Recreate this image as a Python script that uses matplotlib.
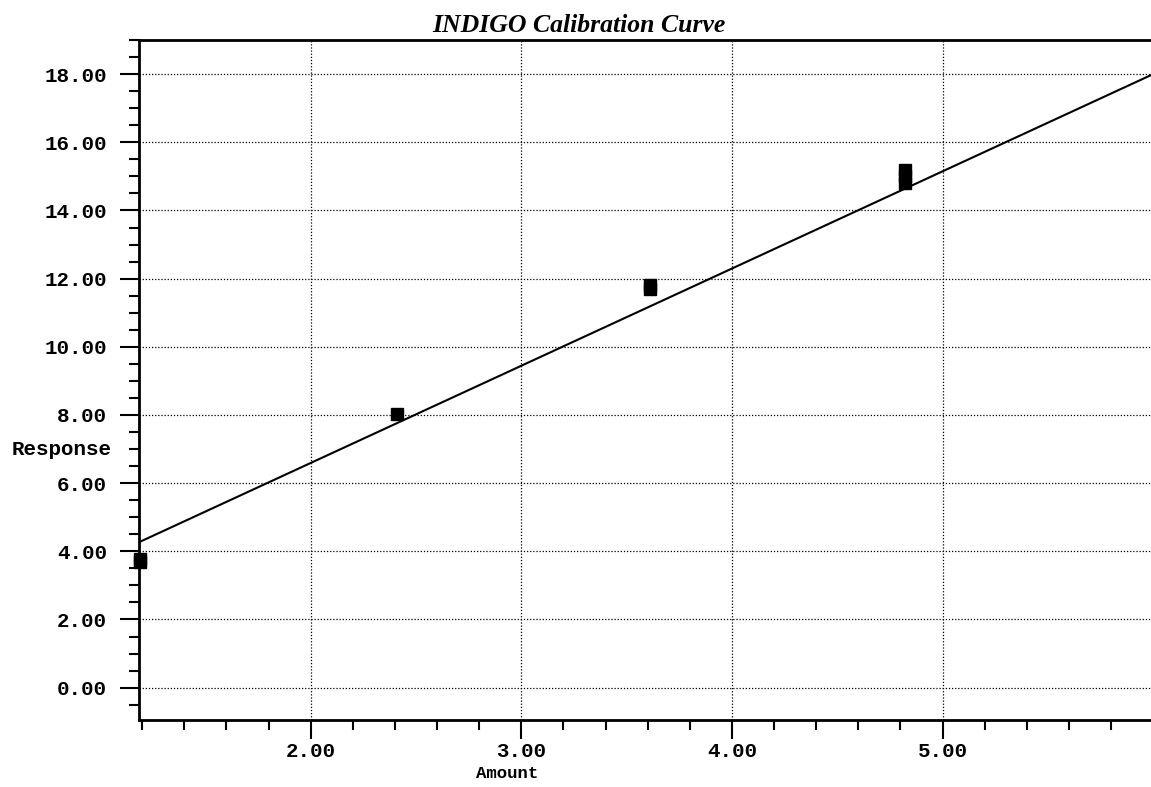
import numpy as np
import matplotlib.pyplot as plt
from matplotlib.ticker import MultipleLocator, FormatStrFormatter

# Данные калибровки
amount = [1.19, 1.19, 2.41, 3.61, 3.61, 4.82, 4.82, 4.82]
response = [3.68, 3.78, 8.02, 11.7, 11.8, 14.8, 15.0, 15.2]

# Коэффициенты калибровочной прямой
slope = 2.852
intercept = 0.888

x_range = [1.185, 5.99]
y_range = [-0.95, 19.0]
x_major = [2.0, 3.0, 4.0, 5.0]

mono = 'Liberation Mono'

fig = plt.figure(figsize=(11.51, 7.87), dpi=100)
ax = fig.add_axes([0.1208, 0.0851, 0.8792, 0.864])

# Калибровочная прямая
xl = np.array(x_range)
ax.plot(xl, slope * xl + intercept, color='black', lw=1.5, zorder=3)

# Точки
ax.plot(amount, response, 's', color='black', ms=8, clip_on=False, zorder=4)

ax.set_xlim(x_range)
ax.set_ylim(y_range)

ax.set_xticks(x_major)
ax.xaxis.set_minor_locator(MultipleLocator(0.2))
ax.yaxis.set_major_locator(MultipleLocator(2.0))
ax.yaxis.set_minor_locator(MultipleLocator(0.5))
ax.xaxis.set_major_formatter(FormatStrFormatter('%.2f'))
ax.yaxis.set_major_formatter(FormatStrFormatter('%.2f'))

ax.grid(True, which='major', color='black', ls=(0, (1, 1.5)), lw=0.9)

ax.tick_params(which='major', direction='out', length=14, width=1.5, pad=2)
ax.tick_params(which='minor', direction='out', length=7, width=1.5)
ax.tick_params(axis='y', which='major', pad=9)

for lab in ax.get_xticklabels() + ax.get_yticklabels():
    lab.set_fontfamily(mono)
    lab.set_fontweight('bold')
    lab.set_fontsize(15)

ax.spines['right'].set_visible(False)
for s in ['left', 'bottom', 'top']:
    ax.spines[s].set_linewidth(2)

# Подписи
fig.text(579 / 1151, 1 - 32 / 787, 'INDIGO Calibration Curve', ha='center', va='baseline',
         fontfamily='Liberation Serif', fontstyle='italic', fontweight='bold', fontsize=18.5)
fig.text(62 / 1151, 1 - 450 / 787, 'Response', ha='center', va='center',
         fontfamily=mono, fontweight='bold', fontsize=15)
fig.text(507 / 1151, 1 - 773 / 787, 'Amount', ha='center', va='center',
         fontfamily=mono, fontweight='bold', fontsize=12.5)

plt.savefig('out.png', dpi=100)
